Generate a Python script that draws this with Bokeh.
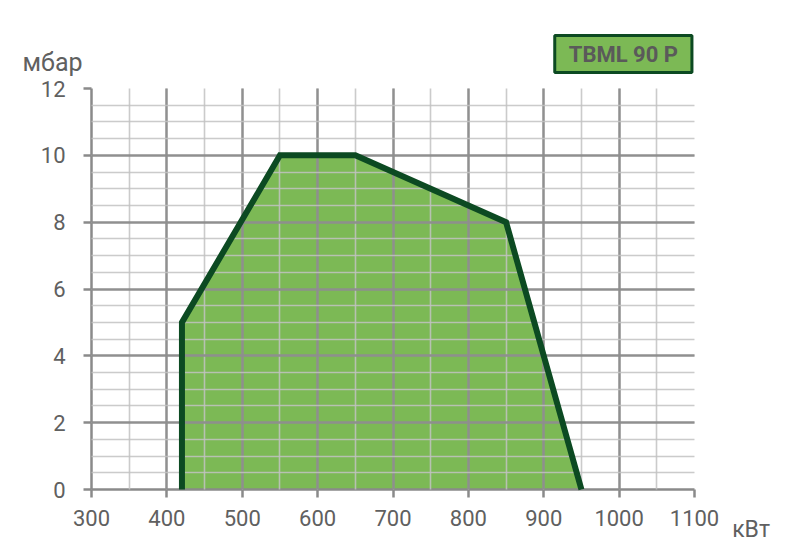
from bokeh.plotting import figure
from bokeh.models import SingleIntervalTicker, Range1d, Label
from bokeh.embed import file_html
from bokeh.resources import INLINE

# Data: working field of the burner (kW vs mbar)
power_kw = [420, 420, 550, 650, 850, 950]
pressure_mbar = [0, 5, 10, 10, 8, 0]

x_title = "кВт"
y_title = "мбар"
model_name = "TBML 90 P"

FONT = "Roboto"
TXT = "#606060"

p = figure(width=792, height=545, output_backend="svg", toolbar_location=None,
           title=None,
           x_range=Range1d(300, 1100), y_range=Range1d(0, 12),
           min_border_left=91, min_border_right=98, min_border_top=88, min_border_bottom=56)
p.outline_line_color = None
p.background_fill_color = "white"
p.border_fill_color = "white"

xt = SingleIntervalTicker(interval=100, num_minor_ticks=2)
yt = SingleIntervalTicker(interval=2, num_minor_ticks=4)
p.xaxis.ticker = xt
p.yaxis.ticker = yt
p.xgrid.ticker = xt
p.ygrid.ticker = yt

for g in (p.xgrid, p.ygrid):
    g.level = "annotation"
    g.grid_line_color = "#8a8a8a"
    g.grid_line_width = 2.5
    g.grid_line_alpha = 0.9
    g.minor_grid_line_color = "#c2c2c2"
    g.minor_grid_line_width = 1.6
    g.minor_grid_line_alpha = 0.85

for ax in (p.xaxis, p.yaxis):
    ax.axis_line_color = "#8a8a8a"
    ax.axis_line_width = 2.5
    ax.major_tick_line_color = "#8a8a8a"
    ax.major_tick_line_width = 2.5
    ax.major_tick_out = 8
    ax.major_tick_in = 0
    ax.minor_tick_line_color = None
    ax.major_label_text_font = FONT
    ax.major_label_text_font_size = "22px"
    ax.major_label_text_color = TXT
p.xaxis.major_label_standoff = 12
p.yaxis.major_label_standoff = 18

# filled working area
p.patch(power_kw, pressure_mbar, fill_color="#7cb955", line_color=None)
# outline
outline = p.line(power_kw, pressure_mbar, line_color="#0c4a22", line_width=6,
                 line_join="miter")
outline.level = "overlay"

# y unit, top-left above the frame (side-panel annotations are not clipped)
unit_y = Label(x=208.5, y=12.78, text=y_title, text_font=FONT, text_font_size="25px",
               text_color=TXT, text_align="left", text_baseline="alphabetic")
p.add_layout(unit_y, "above")

# model name box
model_box = Label(x=1005.6, y=13.03, text=model_name,
                  text_font=FONT, text_font_size="22px", text_font_style="bold",
                  text_color="#5a5a5a", text_align="center", text_baseline="middle",
                  background_fill_color="#7cb955", border_line_color="#0c4a22",
                  border_line_width=3, padding=(14, 6))
p.add_layout(model_box, "above")

# x unit, next to the last tick label
unit_x = Label(x=1150, y=-1.2, text=x_title, text_font=FONT, text_font_size="23px",
               text_color=TXT, text_align="left", text_baseline="alphabetic")
p.add_layout(unit_x, "right")

open("out.html", "w").write(file_html(p, INLINE))
